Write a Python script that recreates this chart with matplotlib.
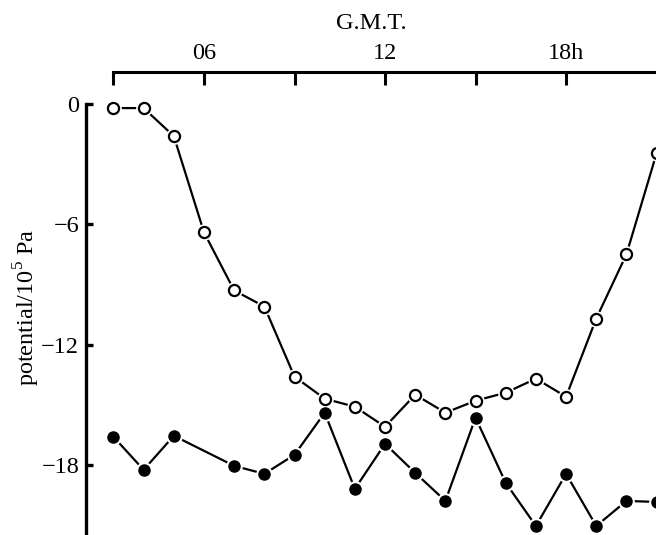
import matplotlib.pyplot as plt
import numpy as np

plt.rcParams['font.family'] = ['Liberation Serif', 'DejaVu Serif']
plt.rcParams['mathtext.fontset'] = 'custom'
plt.rcParams['mathtext.rm'] = 'Liberation Serif'

# hourly readings (G.M.T.)
open_hours = np.arange(3, 22)
open_vals = [-0.2, -0.2, -1.6, -6.4, -9.3, -10.1, -13.6, -14.7, -15.1, -16.1,
             -14.5, -15.4, -14.8, -14.4, -13.7, -14.6, -10.7, -7.5, -2.45]

filled_hours = [3, 4, 5, 7, 8, 9, 10, 11, 12, 13, 14, 15, 16, 17, 18, 19, 20, 21]
filled_vals = [-16.6, -18.25, -16.55, -18.05, -18.45, -17.5, -15.4, -19.2, -16.95,
               -18.4, -19.8, -15.65, -18.9, -21.05, -18.45, -21.05, -19.8, -19.85]

top_ticks = [3, 6, 9, 12, 15, 18]
top_labels = ['', '06', '', '12', '', '18h']
left_ticks = [0, -6, -12, -18]
left_labels = ['0', '\u22126', '\u221212', '\u221218']

fig = plt.figure(figsize=(6.56, 5.35), dpi=100)
ax = fig.add_axes([86 / 656, 0, 570 / 656, 463 / 535])

xmin, xmax = 2.09, 20.98
ymin, ymax = -21.5, 1.6

# white halos give the small gaps where lines meet the circles
ax.plot(filled_hours, filled_vals, color='black', lw=1.6, zorder=1)
ax.plot(filled_hours, filled_vals, 'o', ms=11, color='white', zorder=2)
ax.plot(filled_hours, filled_vals, 'o', ms=8, mfc='black', mec='black', zorder=3)

ax.plot(open_hours, open_vals, color='black', lw=1.6, zorder=1)
ax.plot(open_hours, open_vals, 'o', ms=11, color='white', zorder=2)
ax.plot(open_hours, open_vals, 'o', ms=8, mfc='white', mec='black', mew=1.6, zorder=3)

ax.set_xlim(xmin, xmax)
ax.set_ylim(ymin, ymax)

for side in ['right', 'bottom']:
    ax.spines[side].set_visible(False)
ax.spines['top'].set_linewidth(2.2)
ax.spines['left'].set_linewidth(2.4)
ax.spines['top'].set_bounds(3, xmax)
ax.spines['left'].set_bounds(ymin, 0)

ax.xaxis.tick_top()
ax.set_xticks(top_ticks)
ax.set_xticklabels(top_labels)
ax.tick_params(axis='x', direction='in', length=9, width=2.2, pad=6, labelsize=17.5)
ax.set_yticks(left_ticks)
ax.set_yticklabels(left_labels)
ax.tick_params(axis='y', direction='in', length=5, width=2.4, pad=5, labelsize=17.5)

ax.set_xlabel('G.M.T.', fontsize=17.5, labelpad=10)
ax.xaxis.set_label_position('top')
ax.set_ylabel('potential/10$^5$ Pa', fontsize=17.5)
ax.yaxis.set_label_coords(-0.077, (535 - 307) / 463)

fig.savefig('out.png', dpi=100)
